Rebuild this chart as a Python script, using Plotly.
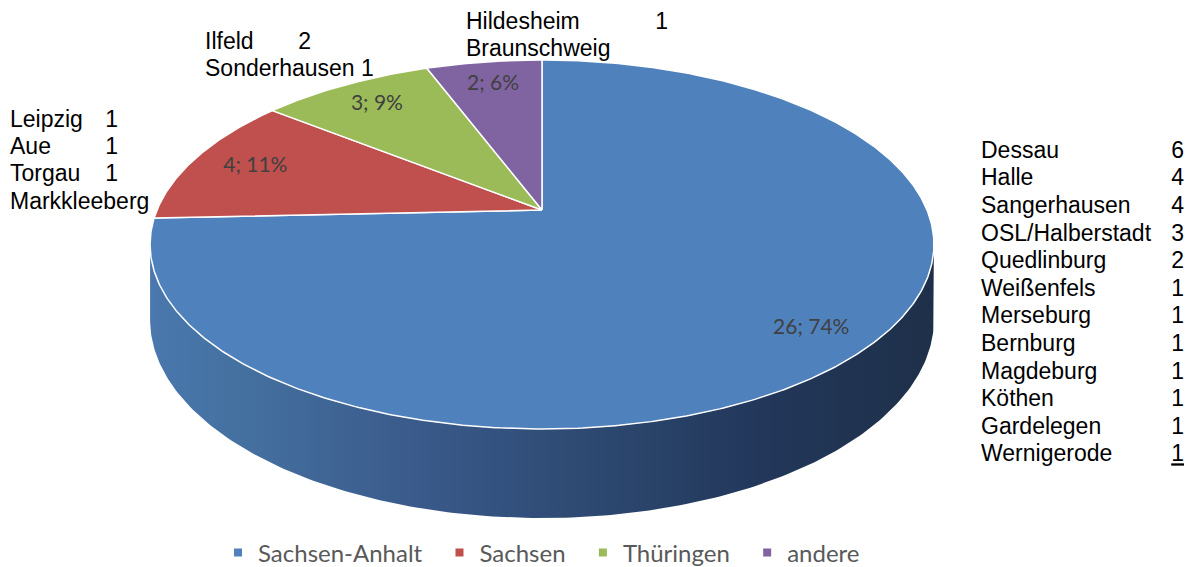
import numpy as np
import plotly.graph_objects as go

# ---------------- data ----------------
regions = ["Sachsen-Anhalt", "Sachsen", "Thüringen", "andere"]
region_counts = [26, 4, 3, 2]
region_colors = ["#4F81BD", "#C0504D", "#9BBB59", "#8064A2"]

sa_cities = ["Dessau", "Halle", "Sangerhausen", "OSL/Halberstadt", "Quedlinburg",
             "Weißenfels", "Merseburg", "Bernburg", "Magdeburg", "Köthen",
             "Gardelegen", "Wernigerode"]
sa_counts = [6, 4, 4, 3, 2, 1, 1, 1, 1, 1, 1, 1]

sn_cities = ["Leipzig", "Aue", "Torgau", "Markkleeberg"]
sn_counts = [1, 1, 1, 1]

th_cities = ["Ilfeld", "Sonderhausen"]
th_counts = [2, 1]

an_cities = ["Hildesheim", "Braunschweig"]
an_counts = [1, 1]

# ---------------- geometry (style) ----------------
PAGE_W, PAGE_H = 1196, 567
OFF = 8                     # default body margin of the html page
CX, CY = 542, 210           # apex of the pie (page pixel space)
R, A, D = 385, 178, 0.187   # horizontal radius, vertical radius, perspective
THICK = 72.4                # side wall thickness
NBSP = "\u00a0"

def proj(t_deg, f=1.0):
    t = np.radians(t_deg)
    s = np.sin(t) * f
    c = np.cos(t) * f
    den = 1 + D * s
    return CX + R * c / den, CY - A * s / den

fig = go.Figure()

TXT_FONT = dict(family="Liberation Sans, Arial", size=23, color="black")

def text_trace(x, y, texts, pos):
    fig.add_trace(go.Scatter(x=x, y=y, text=texts, mode="text", textposition=pos,
                             textfont=TXT_FONT, showlegend=False, hoverinfo="skip",
                             cliponaxis=False))

# city lists (drawn first so that the pie covers them where it overlaps)
sa_y = [152 + 27.6 * i for i in range(len(sa_cities))]
text_trace([981] * len(sa_cities), sa_y, sa_cities, "middle right")
sa_num = [str(v) for v in sa_counts]
sa_num[-1] = "<u>" + sa_num[-1] + "</u>"
text_trace([1184] * len(sa_counts), sa_y, sa_num, "middle left")

sn_y = [121 + 27.3 * i for i in range(len(sn_cities))]
text_trace([10] * 3, sn_y[:3], sn_cities[:3], "middle right")
text_trace([118] * 3, sn_y[:3], [str(v) for v in sn_counts[:3]], "middle left")
text_trace([10], sn_y[3:], [sn_cities[3] + NBSP * 5 + str(sn_counts[3])], "middle right")

th_y = [43, 70]
text_trace([205], th_y[:1], th_cities[:1], "middle right")
text_trace([311], th_y[:1], [str(th_counts[0])], "middle left")
text_trace([205], th_y[1:], [th_cities[1] + " " + str(th_counts[1])], "middle right")

an_y = [23, 50]
text_trace([466, 466], an_y, an_cities, "middle right")
text_trace([668], an_y[:1], [str(an_counts[0])], "middle left")

# side wall (front, visible part)
t_left = 180 + np.degrees(np.arcsin(D))
t_right = 360 - np.degrees(np.arcsin(D))
ts = np.linspace(t_left, t_right, 200)
tx, ty = proj(ts)
thick = THICK / (1 + D * np.sin(np.radians(ts)))
bx, by = tx, ty + thick
fig.add_trace(go.Scatter(
    x=np.concatenate([tx, bx[::-1]]), y=np.concatenate([ty, by[::-1]]),
    mode="lines", fill="toself", line=dict(width=0),
    fillgradient=dict(type="horizontal",
                      colorscale=[[0, "#4a78ae"], [0.12, "#44709f"], [0.35, "#39598a"],
                                  [0.55, "#2e4a72"], [0.78, "#22375a"], [1, "#1e3049"]]),
    showlegend=False, hoverinfo="skip"))

# top face slices
total = sum(region_counts)
cum = 0.0
label_x, label_y, label_t = [], [], []
for name, v, col in zip(regions, region_counts, region_colors):
    a0 = cum
    a1 = cum + 360.0 * v / total
    cum = a1
    tt = np.linspace(90 - a0, 90 - a1, max(int(abs(a1 - a0) * 2), 8))
    px, py = proj(tt)
    fig.add_trace(go.Scatter(
        x=np.concatenate([[CX], px, [CX]]), y=np.concatenate([[CY], py, [CY]]),
        mode="lines", fill="toself", fillcolor=col,
        line=dict(color="white", width=1.5),
        showlegend=False, hoverinfo="skip"))
    frac = v / total
    f = 0.86 if frac > 0.5 else 0.82
    lx, ly = proj(90 - (a0 + a1) / 2, f)
    label_x.append(lx)
    label_y.append(ly)
    label_t.append(f"{v}; {round(100 * frac)}%")

fig.add_trace(go.Scatter(x=label_x, y=label_y, text=label_t, mode="text",
                         textposition="middle center",
                         textfont=dict(family="Lato", size=21, color="#404040"),
                         showlegend=False, hoverinfo="skip"))

# legend entries
for name, col in zip(regions, region_colors):
    fig.add_trace(go.Scatter(x=[None], y=[None], mode="markers", name=name + NBSP * 2,
                             marker=dict(symbol="square", size=8, color=col)))

fig_w, fig_h = PAGE_W - OFF, PAGE_H - OFF
fig.update_layout(
    width=fig_w, height=fig_h,
    margin=dict(l=0, r=0, t=0, b=0, autoexpand=False),
    paper_bgcolor="white", plot_bgcolor="white",
    xaxis=dict(range=[OFF, PAGE_W], visible=False, fixedrange=True),
    yaxis=dict(range=[PAGE_H, OFF], visible=False, fixedrange=True),
    legend=dict(orientation="h", x=(238 - 20 - OFF) / fig_w, xanchor="left",
                y=1 - (553 - OFF) / fig_h, yanchor="middle",
                font=dict(family="Lato", size=24, color="#595959"),
                bgcolor="rgba(0,0,0,0)", itemwidth=30),
    showlegend=True,
)

fig.write_html("out.html")
